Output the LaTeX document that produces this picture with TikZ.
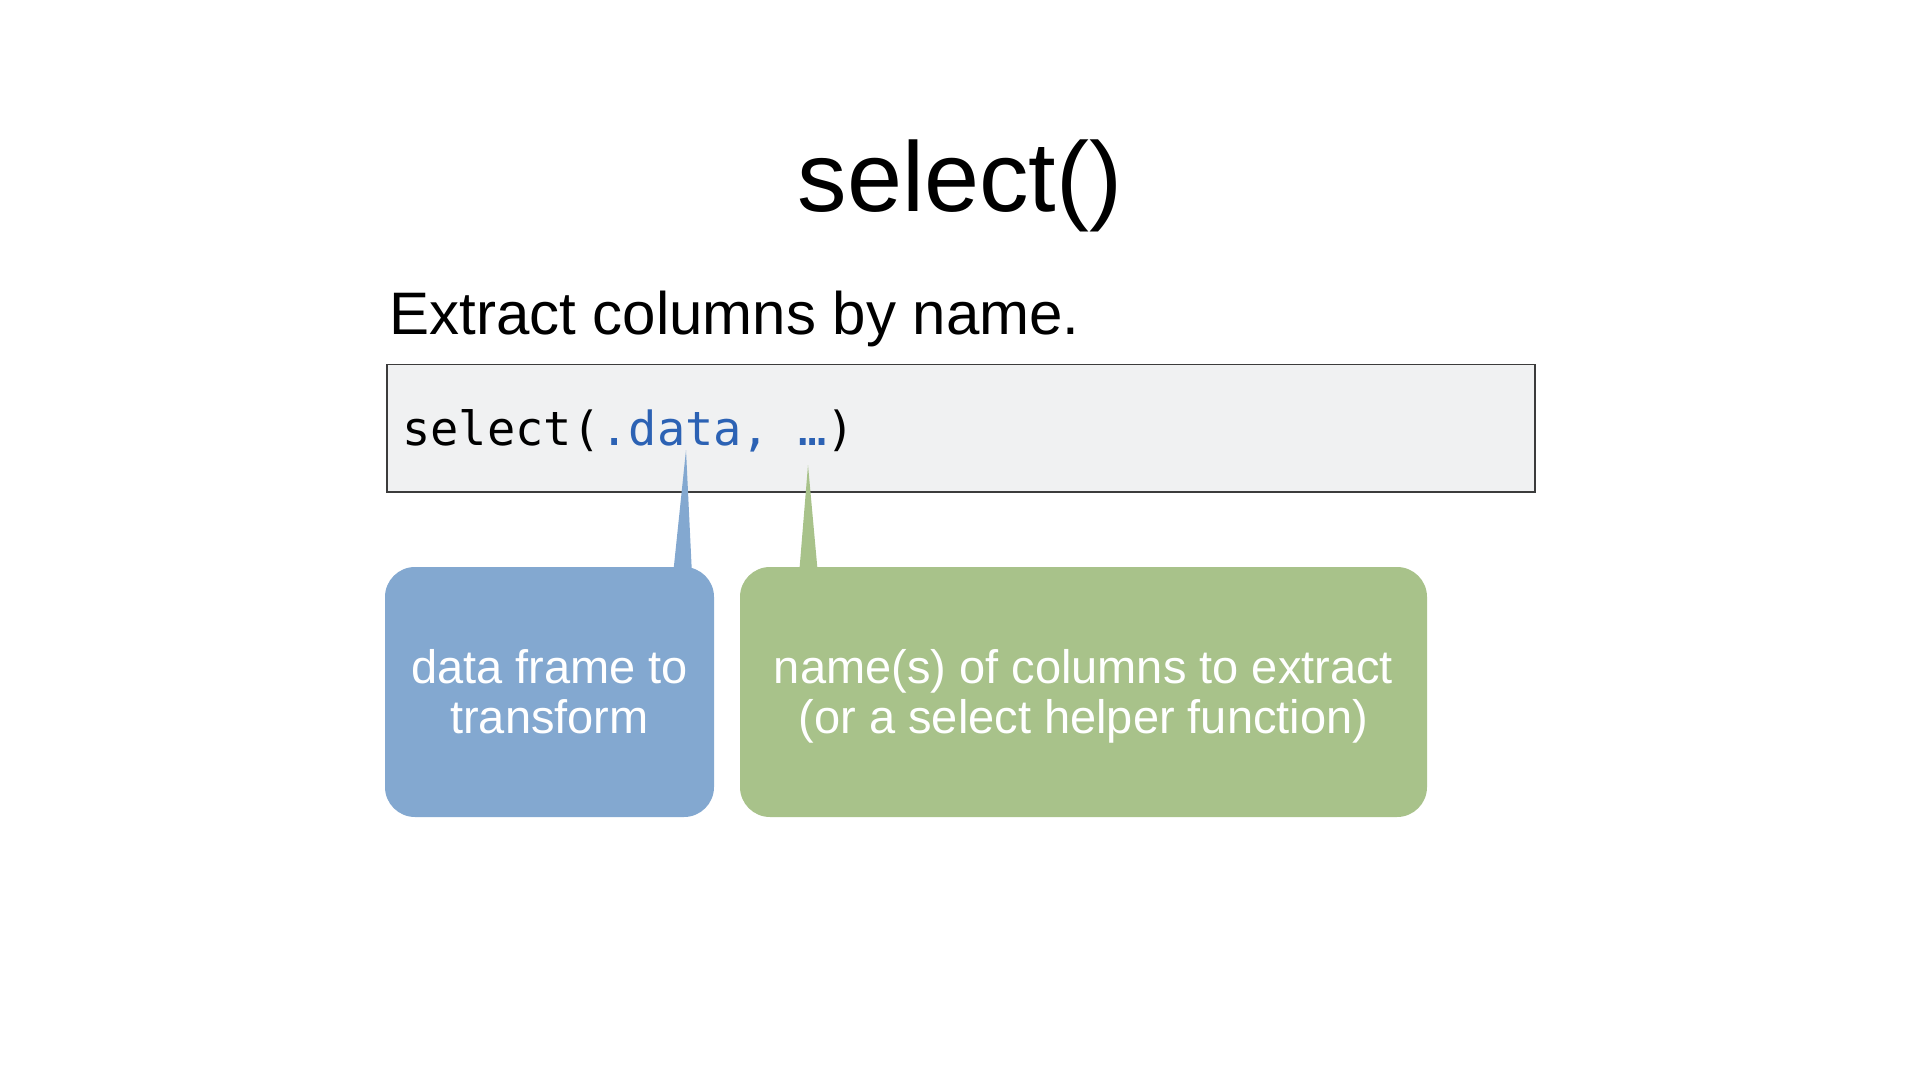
\documentclass[tikz,border=0pt]{standalone}
\usepackage{fontspec}
\setmainfont{Liberation Sans}
\newfontfamily\codefont{DejaVu Sans Mono}
\definecolor{bluefill}{RGB}{131,168,208}
\definecolor{greenfill}{RGB}{168,194,138}
\definecolor{codebg}{RGB}{240,241,242}
\definecolor{codeblue}{RGB}{44,98,180}
\definecolor{codeborder}{RGB}{60,60,60}
\tikzset{
  bubble/.style={rounded corners=15pt, inner sep=0pt, draw=none, minimum height=125pt},
  bubbletext/.style={text=white, align=center, inner sep=0pt, font=\fontsize{23.5}{25}\selectfont},
  codebox/.style={fill=codebg, draw=codeborder, line width=0.75pt, inner sep=0pt, anchor=north west}
}
\begin{document}
\begin{tikzpicture}[x=0.5pt,y=-0.5pt]
\useasboundingbox (0,0) rectangle (1920,1080);
\fill[white] (0,0) rectangle (1920,1080);

\node[anchor=base, inner sep=0pt] (title) at (960,212) {\fontsize{49.5}{55}\selectfont select()};
\node[anchor=base west, inner sep=0pt] (sub) at (389,335) {\fontsize{30}{34}\selectfont Extract columns by name.};

\node[codebox, minimum width=574pt, minimum height=63.5pt] (code) at (386,364) {};
\node[anchor=base west, inner sep=0pt] (codetxt) at (402,445) {\codefont\fontsize{23.5}{28}\selectfont select(\textcolor{codeblue}{.data, …})};

\node[bubble, fill=bluefill, minimum width=164.5pt] (bluebox) at (549.5,692) {};
\node[bubble, fill=greenfill, minimum width=343.5pt] (greenbox) at (1083.5,692) {};

\coordinate (tipA) at (686,450);
\coordinate (tipB) at (808,465);
\fill[bluefill] (tipA) -- (673,575) -- (692,575) -- cycle;
\fill[greenfill] (tipB) -- (799,575) -- (818,575) -- cycle;

\node[bubbletext] (bluetxt) at (549.5,696) {data frame to\\transform\vphantom{(}};
\node[bubbletext] (greentxt) at (1083.5,696) {name(s) of columns to extract\\(or a select helper function)};
\end{tikzpicture}
\end{document}
